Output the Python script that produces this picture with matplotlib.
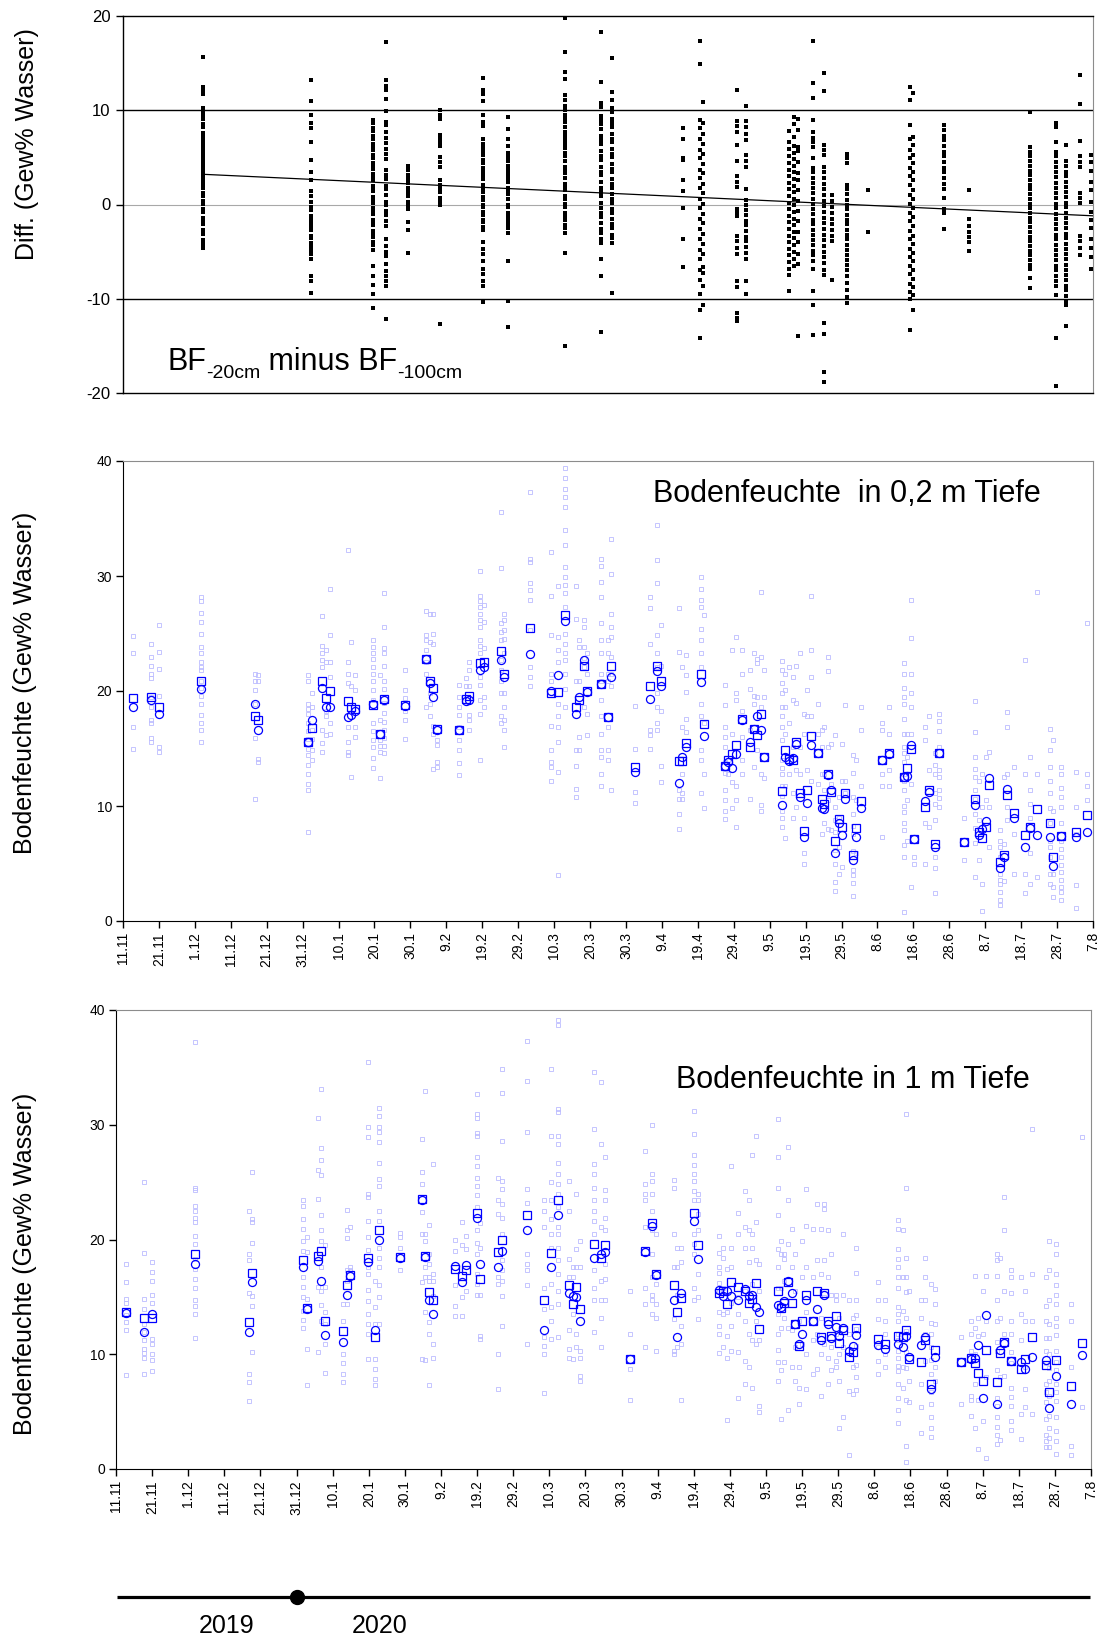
import matplotlib
matplotlib.use("Agg")
import matplotlib.pyplot as plt

plt.rcParams['font.family'] = ['Liberation Sans', 'DejaVu Sans']
plt.rcParams['axes.unicode_minus'] = False

# ---------------- data ----------------
# x positions are days after 11.11.2019
tick_days = [0, 10, 20, 30, 40, 50, 60, 70, 80, 90, 100, 110, 120, 130, 140, 150, 160,
             170, 180, 190, 200, 210, 220, 230, 240, 250, 260, 270]
tick_labels = ['11.11', '21.11', '1.12', '11.12', '21.12', '31.12', '10.1', '20.1', '30.1',
               '9.2', '19.2', '29.2', '10.3', '20.3', '30.3', '9.4', '19.4', '29.4', '9.5',
               '19.5', '29.5', '8.6', '18.6', '28.6', '8.7', '18.7', '28.7', '7.8']

# Panel 1: BF-20cm minus BF-100cm
diff_days = [22.2, 52.2, 69.7, 73.2, 79.2, 88.2, 100.1, 107.1, 123.0, 133.0, 136.0,
             156.0, 160.6, 161.5, 171.0, 173.3, 185.5, 186.8, 188.0, 192.0, 195.0, 197.4,
             201.5, 207.4, 219.0, 220.0, 228.4, 235.5, 252.4, 259.7, 262.5, 266.4, 269.5]
diff_vals = [
    [15.6, 12.5, 12.1, 11.7, 10.2, 9.8, 9.4, 9.1, 8.5, 8.2, 7.6, 7.3, 7.0, 6.5, 6.2, 5.8, 5.5,
     5.1, 4.8, 4.4, 4.1, 3.7, 3.5, 3.1, 2.7, 2.3, 2.0, 1.7, 1.2, 0.9, 0.4, 0.1, -0.5, -0.8,
     -1.4, -1.8, -2.1, -2.7, -3.1, -3.8, -4.2, -4.6],
    [13.2, 11.0, 9.5, 8.6, 8.1, 6.6, 4.7, 3.5, 2.6, 1.4, 0.9, 0.3, -0.3, -0.6, -1.2, -1.5,
     -2.0, -2.4, -2.7, -3.3, -3.6, -4.1, -4.4, -4.8, -5.3, -5.8, -7.6, -8.1, -9.4],
    [9.0, 8.7, 8.1, 7.8, 7.3, 7.0, 6.4, 6.1, 5.8, 5.2, 4.9, 4.4, 4.1, 3.8, 3.2, 2.9, 2.6,
     2.0, 1.7, 1.4, 0.8, 0.5, 0.2, -0.4, -0.7, -1.0, -1.6, -1.9, -2.2, -2.8, -3.1, -3.4,
     -4.0, -4.3, -4.8, -6.5, -7.6, -8.5, -9.5, -11.0],
    [17.2, 13.2, 12.6, 12.2, 11.2, 9.9, 8.8, 8.4, 7.7, 7.1, 6.5, 5.9, 5.4, 4.8, 3.7, 3.1,
     2.7, 2.0, 1.6, 1.0, 0.3, 0.0, -0.7, -1.1, -1.8, -2.3, -3.7, -4.4, -5.0, -5.5, -6.3,
     -7.1, -7.6, -8.1, -8.7, -12.1],
    [4.1, 3.7, 3.1, 2.7, 2.3, 1.7, 1.3, 0.9, 0.3, 0.0, -0.5, -1.9, -2.7, -5.1],
    [10.0, 9.5, 9.1, 7.4, 6.9, 6.6, 6.2, 5.0, 4.5, 4.0, 2.6, 2.1, 1.7, 1.3, 0.7, 0.4, 0.0, -12.7],
    [13.4, 12.2, 11.7, 11.0, 9.5, 8.8, 8.3, 6.9, 6.4, 6.1, 5.7, 5.2, 4.7, 4.4, 3.9, 3.4, 3.0,
     2.7, 2.1, 1.8, 1.3, 0.8, 0.5, 0.0, -0.3, -0.8, -1.1, -1.6, -1.9, -2.4, -2.7, -4.0,
     -4.7, -5.3, -6.0, -6.8, -7.4, -8.1, -8.7, -10.3],
    [9.3, 8.0, 6.9, 6.2, 5.5, 5.0, 4.6, 4.1, 3.7, 3.2, 2.8, 2.4, 1.8, 1.5, 1.1, 0.6, 0.0,
     -0.3, -0.9, -1.2, -1.6, -2.1, -2.5, -3.0, -6.0, -10.2, -13.0],
    [19.8, 16.2, 14.1, 13.3, 11.6, 11.1, 10.4, 10.0, 9.5, 9.1, 8.8, 8.2, 7.7, 7.3, 6.8, 6.4,
     6.0, 5.5, 5.1, 4.6, 4.0, 3.7, 3.3, 2.8, 2.2, 1.9, 1.5, 0.9, 0.6, 0.1, -0.3, -0.9,
     -1.3, -1.6, -2.2, -2.5, -3.0, -5.1, -15.0],
    [18.3, 13.0, 10.8, 10.3, 9.4, 9.0, 8.5, 8.0, 7.3, 6.8, 6.4, 5.7, 5.1, 4.7, 4.0, 3.5,
     3.1, 2.4, 1.8, 1.3, 0.9, 0.2, -0.4, -0.9, -1.3, -2.0, -2.6, -3.0, -3.7, -4.1, -5.8,
     -7.6, -13.5],
    [15.5, 11.9, 11.1, 10.2, 9.8, 9.1, 8.6, 8.2, 7.5, 7.0, 6.6, 5.9, 5.4, 5.0, 4.3, 3.8,
     3.4, 2.7, 2.2, 1.8, 1.1, 0.6, 0.2, -0.5, -0.9, -1.5, -2.1, -2.5, -3.2, -3.6, -4.1, -9.4],
    [8.1, 7.0, 4.9, 4.7, 2.6, 1.4, -0.4, -3.7, -6.6],
    [17.4, 14.9, 9.0, 8.1, 7.0, 5.8, 4.9, 3.7, 2.8, 1.7, 0.6, -0.4, -1.5, -2.6, -3.7,
     -4.8, -5.8, -7.0, -8.0, -9.5, -11.2, -14.2],
    [10.9, 8.6, 7.5, 6.4, 5.4, 4.3, 3.3, 2.2, 1.2, 0.1, -1.0, -2.0, -3.1, -4.2, -5.3,
     -6.6, -7.3, -8.6, -10.7],
    [12.1, 8.9, 8.3, 7.7, 6.3, 4.6, 3.0, 2.4, 1.9, -0.5, -0.9, -1.2, -3.3, -3.9, -4.6,
     -5.3, -8.1, -8.8, -11.5, -12.0, -12.4],
    [10.4, 8.9, 8.2, 7.5, 6.8, 5.3, 4.6, 4.0, 1.6, 0.5, 0.0, -0.6, -1.1, -1.7, -2.2, -2.8,
     -3.4, -3.9, -4.5, -5.1, -5.8, -8.1, -9.5],
    [7.8, 6.6, 5.9, 5.1, 4.4, 3.7, 3.0, 2.3, 1.6, 0.9, 0.2, -0.5, -1.2, -1.9, -2.6, -3.3,
     -4.0, -4.7, -5.4, -6.1, -6.8, -7.5, -9.2],
    [9.3, 8.5, 7.2, 6.2, 5.5, 4.8, 4.1, 3.4, 2.7, 2.0, 1.3, 0.6, -0.1, -0.8, -1.5, -2.2,
     -2.9, -3.6, -4.3, -5.0, -5.8, -6.5],
    [9.1, 7.9, 6.1, 5.7, 4.5, 3.3, 2.6, 1.5, 0.4, -0.7, -1.8, -2.9, -4.0, -5.2, -6.3, -14.0],
    [17.3, 12.9, 11.3, 9.0, 7.7, 7.1, 6.6, 6.1, 4.9, 3.9, 3.4, 2.8, 2.3, 1.7, 1.2, 0.6,
     0.1, -0.5, -1.0, -1.6, -2.1, -2.7, -3.2, -3.8, -4.3, -4.9, -5.4, -6.0, -6.8, -9.2,
     -10.7, -13.8],
    [13.9, 12.0, 6.3, 5.8, 5.3, 4.0, 3.4, 2.8, 2.2, 1.6, 1.0, 0.4, -0.2, -0.8, -1.4, -2.0,
     -2.6, -3.2, -3.8, -4.4, -5.0, -5.6, -6.2, -6.9, -7.5, -12.6, -13.7, -17.8, -18.8],
    [1.0, 0.4, -0.3, -0.9, -1.5, -2.1, -2.7, -3.3, -3.9, -8.0],
    [5.4, 4.9, 4.4, 2.1, 1.6, 1.1, 0.5, 0.0, -0.5, -1.1, -1.6, -2.1, -2.7, -3.2, -3.7,
     -4.3, -4.8, -5.4, -5.9, -6.4, -7.0, -7.6, -8.3, -9.1, -9.8, -10.4],
    [1.5, -2.9],
    [12.5, 11.1, 8.4, 6.9, 5.8, 4.9, 3.9, 3.0, 2.1, 1.0, 0.1, -0.9, -1.8, -2.8, -3.7,
     -4.7, -5.6, -6.5, -7.4, -8.4, -9.3, -10.0, -13.3],
    [11.8, 7.2, 6.3, 5.3, 4.4, 3.5, 2.6, 1.5, 0.6, -0.4, -1.3, -2.3, -3.3, -4.2, -5.1,
     -6.0, -7.0, -7.9, -8.8, -9.6, -11.2],
    [8.4, 7.9, 7.3, 6.8, 6.2, 5.6, 5.1, 4.5, 3.9, 3.4, 2.8, 2.2, 1.6, 0.7, -0.5, -0.9, -2.6],
    [1.5, -1.5, -2.3, -2.9, -3.4, -4.0, -4.9],
    [9.8, 6.1, 5.6, 5.1, 4.6, 4.1, 3.6, 3.1, 2.6, 2.1, 1.6, 1.1, 0.6, 0.1, -0.4, -0.9,
     -1.4, -1.9, -2.4, -2.9, -3.4, -3.9, -4.4, -4.9, -5.4, -5.9, -6.4, -6.8, -7.8, -8.9],
    [8.7, 8.2, 6.6, 5.6, 5.1, 4.5, 4.0, 3.4, 2.9, 2.3, 1.8, 1.2, 0.7, 0.1, -0.4, -1.0,
     -1.5, -2.1, -2.6, -3.2, -3.7, -4.3, -4.8, -5.4, -5.9, -6.5, -7.0, -7.6, -8.1, -8.7,
     -9.6, -14.2, -19.3],
    [6.3, 4.6, 4.1, 3.5, 3.0, 2.4, 1.9, 1.3, 0.8, 0.2, -0.3, -0.9, -1.4, -2.0, -2.5, -3.1,
     -3.6, -4.2, -4.7, -5.3, -5.8, -6.4, -6.9, -7.5, -8.0, -8.6, -9.1, -9.7, -10.2, -10.7,
     -12.9],
    [13.7, 10.7, 6.7, 5.1, 4.5, 4.0, 1.2, 0.7, 0.2, -3.3, -3.9, -4.6, -5.4],
    [5.3, 4.5, 3.6, 2.4, 1.5, 0.3, -0.8, -1.6, -2.5, -3.7, -4.6, -5.6, -6.8],
]
trend_days = [22.5, 270.0]
trend_vals = [3.2, -1.2]

# Panel 2: soil moisture at 0.2 m
bf20_days = [2.7, 7.8, 9.9, 21.6, 36.7, 37.7, 51.5, 52.5, 55.4, 56.4, 57.6, 62.5, 63.5, 64.5,
             69.6, 71.6, 72.6, 78.4, 84.4, 85.4, 86.3, 87.4, 93.5, 95.4, 96.4, 99.5, 100.5,
             105.2, 106.1, 113.3, 119, 121, 123, 126, 127, 128.2, 129.2, 133, 135, 135.8,
             142.6, 146.7, 148.7, 149.7, 154.7, 155.7, 156.7, 160.8, 161.8, 167.5, 168.5,
             169.5, 170.5, 172.4, 174.6, 175.6, 176.5, 177.5, 178.5, 183.4, 184.4, 185.4,
             186.4, 187.4, 188.5, 189.5, 190.5, 191.5, 193.5, 194.5, 195.2, 196.2, 197.2,
             198.2, 199.2, 200.1, 201.1, 203.1, 204.1, 205.3, 211.2, 213.2, 217.4, 218.3,
             219.3, 220.3, 223.3, 224.3, 226.1, 227.1, 234, 237.2, 238.2, 239.1, 240.1,
             241.1, 244.1, 245.1, 246.1, 248.1, 251, 252.4, 254.4, 258, 259, 261.2, 265.2,
             268.2]
bf20_square = [19.4, 19.5, 18.6, 20.9, 17.8, 17.5, 15.6, 16.8, 20.9, 19.4, 20.0, 19.1, 18.6,
               18.4, 18.8, 16.3, 19.3, 18.8, 22.8, 20.9, 20.3, 16.7, 16.6, 19.3, 19.6, 22.4,
               22.5, 23.5, 21.5, 25.5, 19.8, 19.9, 26.6, 18.6, 19.2, 22.2, 20.0, 20.6, 17.7,
               22.2, 13.4, 20.4, 22.2, 20.9, 13.9, 13.9, 15.5, 21.5, 17.1, 13.5, 14.0, 14.5,
               15.3, 17.6, 15.1, 16.7, 16.2, 18.0, 14.3, 11.3, 14.9, 14.1, 14.0, 15.6, 11.1,
               7.8, 11.4, 16.1, 14.6, 10.6, 10.2, 12.8, 11.2, 7.0, 8.9, 8.2, 11.1, 5.7, 8.1,
               10.4, 14.0, 14.6, 12.5, 13.3, 15.0, 7.1, 9.9, 11.4, 6.7, 14.6, 6.9, 10.6, 7.7,
               7.2, 8.2, 11.8, 5.1, 5.7, 11.0, 9.4, 7.5, 8.2, 9.7, 8.5, 5.6, 7.4, 7.7, 9.2]
bf20_circle = [18.6, 19.2, 18.0, 20.2, 18.9, 16.6, 15.6, 17.5, 20.3, 18.6, 18.6, 17.7, 17.9,
               18.3, 18.9, 16.3, 19.2, 18.7, 22.8, 20.7, 19.5, 16.6, 16.6, 19.1, 19.2, 21.8,
               22.1, 22.7, 21.2, 23.2, 20.0, 21.4, 26.1, 18.0, 19.5, 22.7, 19.9, 20.6, 17.7,
               21.2, 13.0, 19.3, 21.7, 20.4, 12.0, 14.3, 15.1, 20.8, 16.1, 13.5, 13.8, 13.3,
               14.5, 17.5, 15.6, 16.7, 17.8, 16.6, 14.3, 10.1, 14.3, 13.9, 14.2, 15.4, 10.8,
               7.3, 10.3, 15.3, 14.6, 9.8, 9.7, 12.7, 11.4, 5.9, 8.5, 7.5, 10.6, 5.3, 7.3,
               9.8, 14.0, 14.5, 12.5, 12.6, 15.3, 7.1, 10.4, 11.2, 6.4, 14.6, 6.9, 10.1, 7.5,
               8.0, 8.7, 12.4, 4.6, 5.6, 11.5, 9.0, 6.4, 8.1, 7.5, 7.3, 4.8, 7.4, 7.3, 7.7]
bf20_single = [
    [24.8, 23.3, 16.9, 15.0],
    [24.1, 23.0, 22.2, 21.5, 21.1, 19.5, 18.6, 17.5, 17.2, 15.9, 15.6],
    [25.7, 23.4, 21.9, 19.6, 15.1, 14.7],
    [28.2, 27.8, 26.8, 26.0, 25.0, 23.8, 23.3, 22.5, 22.1, 21.8, 20.9, 20.3, 19.6, 18.9, 17.9,
     17.2, 16.6, 15.6],
    [21.5, 20.9, 20.1, 18.9, 15.9, 10.6],
    [21.4, 20.9, 14.1, 13.8],
    [21.4, 20.9, 18.9, 18.4, 18.0, 17.2, 16.5, 15.8, 15.0, 14.4, 13.6, 12.8, 11.9, 11.4, 7.7],
    [19.8, 18.6, 16.6, 15.8, 14.9, 14.0],
    [26.5, 23.9, 23.3, 22.7, 22.1, 16.6, 15.5, 14.7],
    [23.6, 22.5, 18.3, 17.8, 16.2],
    [28.9, 24.9, 22.5, 21.2, 17.2, 16.3],
    [32.3, 22.5, 21.5, 20.7, 16.9, 15.6, 14.7, 14.4],
    [24.3, 20.4, 12.5],
    [21.4, 20.1, 16.9, 16.0],
    [24.4, 23.8, 23.3, 22.8, 22.1, 21.5, 20.9, 20.1, 19.2, 17.2, 16.5, 15.7, 15.1, 14.2, 13.3],
    [21.4, 17.5, 15.7, 15.2, 14.7, 12.4],
    [28.5, 25.6, 23.7, 23.3, 22.2, 20.9, 20.2, 19.0, 18.1, 17.3, 16.6, 15.9, 15.2, 14.6],
    [21.8, 20.1, 19.4, 18.3, 17.5, 15.8],
    [27.0, 24.9, 24.4, 23.6, 22.5, 21.5, 18.6],
    [26.7, 24.3, 19.8, 18.9, 17.8],
    [26.7, 25.0, 24.1, 17.0, 16.3, 13.2],
    [15.7, 15.3, 13.8, 13.4],
    [20.5, 19.5, 18.6, 17.9, 16.9, 15.7, 14.9, 13.7, 12.7],
    [21.1, 20.4],
    [22.5, 21.8, 20.4, 17.9, 17.5, 16.6],
    [30.4, 28.3, 27.8, 27.3, 26.7, 26.2, 25.6, 24.4, 23.9, 23.3, 21.2, 20.5, 19.2, 18.0, 14.0],
    [27.5, 26.0, 23.7, 19.5, 18.6],
    [35.6, 30.7, 25.9, 25.1, 24.4, 22.7, 21.8, 20.9, 19.8, 17.8, 17.2],
    [26.7, 26.2, 25.3, 24.5, 23.3, 19.8, 18.6, 17.5, 16.6, 15.1],
    [37.3, 31.5, 31.2, 29.4, 28.8, 27.9, 25.3, 22.1, 21.2, 20.4],
    [32.1, 28.3, 24.9, 21.5, 20.9, 17.0, 14.9, 13.8, 13.4, 12.2],
    [29.1, 24.7, 23.6, 22.5, 18.9, 17.8, 16.9, 15.6, 13.0, 4.0],
    [39.4, 38.5, 37.6, 36.9, 36.0, 34.0, 32.7, 30.8, 29.9, 29.2, 28.5, 27.3, 25.0, 24.1, 23.3,
     22.7, 21.5, 20.2, 18.6],
    [29.1, 26.3, 20.9, 14.9, 13.5, 11.5, 10.8],
    [24.4, 23.8, 20.9, 16.0, 14.9],
    [26.2, 25.6, 23.8, 22.9, 22.1, 18.6],
    [23.3, 21.5, 18.0, 16.2],
    [31.5, 30.9, 29.5, 28.2, 25.9, 24.4, 23.3, 21.5, 20.9, 19.2, 17.8, 16.3, 14.9, 14.3, 12.8,
     11.7],
    [24.4, 23.3, 21.5, 20.9, 16.9, 14.9, 14.0],
    [33.2, 30.2, 26.7, 25.6, 24.7, 23.0, 21.5, 20.4, 11.4],
    [18.7, 15.0, 11.2, 10.3],
    [28.2, 27.2, 24.1, 16.6, 16.2, 15.0],
    [34.4, 31.4, 29.4, 24.9, 23.3, 22.1, 19.8, 18.6, 17.2, 16.6],
    [25.7, 22.2, 18.3, 13.5, 12.1],
    [27.2, 23.4, 11.4, 10.6, 9.3, 8.0],
    [22.1, 16.9, 12.8, 11.1, 10.6],
    [23.1, 21.4, 19.9, 17.6, 16.4],
    [29.9, 28.9, 27.9, 27.3, 25.4, 24.4, 23.3, 22.1, 18.9, 17.8, 14.9, 14.0, 11.1],
    [26.6, 17.2, 12.8, 9.8],
    [20.5, 18.8, 16.9, 16.0, 15.1, 13.8, 12.9, 11.4, 10.5, 9.6, 8.9],
    [14.0, 12.8],
    [23.6, 16.3, 12.1, 9.8],
    [24.7, 19.8, 19.2, 11.7, 10.5, 8.2],
    [23.6, 21.5, 18.3, 16.0, 14.0, 12.8],
    [21.8, 20.2, 16.6, 10.6],
    [23.3, 19.6, 18.9, 13.4],
    [22.8, 22.4, 19.5, 14.9],
    [28.6, 23.0, 18.6, 12.8, 10.1, 9.6],
    [21.8, 19.5, 12.4],
    [22.6, 21.8, 20.7, 19.8, 18.6, 17.8, 16.9, 15.7, 14.0, 13.3, 12.8, 11.7, 10.9, 9.6, 9.0,
     8.2],
    [21.5, 20.1, 18.6, 16.3, 11.7, 7.2],
    [22.1, 17.2, 12.8],
    [21.2, 19.2, 15.1, 11.1, 9.0],
    [22.2, 19.0, 13.1, 9.9],
    [23.3, 15.1, 12.8],
    [18.0, 16.3, 9.0, 5.9, 5.0],
    [20.1, 17.8, 13.1],
    [28.3, 23.6, 21.2, 17.8, 12.2],
    [18.9, 16.3, 11.9],
    [16.6, 15.1, 12.8, 7.6],
    [16.9, 12.8, 11.4, 8.5],
    [23.0, 21.7, 15.1, 10.5, 8.0],
    [15.4, 11.9, 7.9],
    [16.2, 9.9, 8.8, 7.7, 6.2, 5.0, 3.4, 2.6],
    [10.8, 9.0, 6.4, 4.1],
    [15.4, 12.2, 4.7],
    [18.8, 12.2, 11.1],
    [14.4, 12.9, 10.8, 9.3, 8.3, 7.6, 6.1, 4.4, 4.0, 3.3, 2.2],
    [14.0, 10.5, 5.9],
    [18.6, 16.6, 11.7],
    [17.2, 16.6, 12.8, 11.7, 7.3],
    [18.6, 16.3, 13.1, 11.7],
    [22.4, 21.5, 20.3, 19.5, 18.9, 17.6, 16.3, 15.1, 14.6, 13.8, 12.8, 12.2, 11.4, 10.0, 9.5,
     8.5, 7.9, 6.6, 5.6, 0.8],
    [16.3, 14.3, 10.5, 7.0],
    [27.9, 24.6, 21.5, 19.8, 18.6, 16.3, 11.9, 3.0],
    [5.6, 5.0],
    [16.9, 15.7, 8.5, 5.0],
    [17.8, 13.1, 8.2],
    [14.6, 13.6, 12.8, 11.1, 10.2, 8.8, 5.6, 4.6, 2.4],
    [18.0, 17.4, 16.5, 15.1, 13.1, 12.5, 11.4, 10.7, 9.9],
    [9.0, 5.3],
    [19.1, 16.4, 14.3, 13.2, 12.5, 11.4, 10.6, 9.3, 8.1, 6.8, 3.8],
    [12.2, 8.8, 5.3],
    [12.8, 9.9, 3.2, 0.9],
    [14.3, 10.5],
    [14.7, 9.9, 6.4],
    [7.9, 7.0, 6.4, 5.6, 4.1, 3.6, 3.2, 2.5, 1.8, 1.4],
    [12.5, 6.7, 3.5],
    [18.2, 16.9, 12.8, 9.9, 8.8],
    [13.4, 7.6, 4.1],
    [22.7, 12.8, 4.1, 2.4],
    [14.3, 11.4, 10.2, 9.0, 5.9, 3.2],
    [28.6, 12.8, 3.8],
    [16.7, 14.9, 13.4, 12.2, 11.1, 9.8, 8.5, 7.0, 6.4, 5.6, 4.1, 3.2],
    [15.7, 9.6, 4.1, 3.0, 2.1],
    [13.4, 12.8, 11.6, 10.8, 9.9, 8.5, 7.0, 6.3, 5.6, 4.9, 4.3, 3.6, 3.0, 2.5, 1.8],
    [13.0, 9.9, 7.6, 3.1, 1.1],
    [25.9, 12.8, 11.7, 10.5],
]

# Panel 3: soil moisture at 1 m
bf100_days = [2.8, 7.7, 9.9, 21.8, 36.7, 37.6, 51.7, 52.9, 55.9, 56.9, 57.8, 62.9, 63.9, 64.8,
              69.7, 71.7, 72.7, 78.7, 84.7, 85.7, 86.6, 87.9, 93.9, 95.8, 96.8, 99.9, 100.9,
              105.8, 107.0, 113.8, 118.5, 120.5, 122.4, 125.5, 126.5, 127.5, 128.5, 132.4,
              134.3, 135.5, 142.4, 146.5, 148.4, 149.4, 154.5, 155.4, 156.4, 160.1, 161.3,
              167.1, 168.1, 169.1, 170.3, 172.3, 174.2, 175.2, 176.2, 177.2, 178.1, 183.2,
              184.2, 185.1, 186.1, 187.1, 188.1, 189.0, 190.0, 191.0, 193.0, 194.0, 195.2,
              196.1, 197.1, 198.1, 199.3, 200.2, 201.2, 203.0, 204.0, 204.9, 211.0, 213.0,
              216.6, 217.8, 218.7, 219.7, 222.9, 223.9, 225.8, 226.8, 233.9, 236.8, 237.8,
              238.8, 240.0, 241.0, 243.9, 244.9, 245.9, 247.8, 250.7, 251.7, 253.6, 257.5,
              258.5, 260.4, 264.5, 267.5]
bf100_square = [13.7, 13.2, 13.2, 18.7, 12.8, 17.1, 18.2, 14.0, 18.6, 19.0, 12.9, 12.0, 16.0,
                16.9, 18.4, 11.5, 20.8, 18.5, 23.5, 18.6, 15.4, 14.7, 17.4, 16.8, 17.3, 22.3,
                16.6, 18.9, 20.0, 22.1, 14.7, 18.8, 23.4, 16.0, 14.4, 15.9, 13.9, 19.6, 18.4,
                19.5, 9.6, 19.0, 21.4, 17.0, 16.0, 13.7, 14.9, 22.3, 19.5, 15.3, 15.5, 14.4,
                16.3, 15.9, 15.5, 14.5, 14.8, 16.2, 12.2, 15.5, 14.0, 14.5, 16.3, 14.5, 12.6,
                10.7, 12.9, 15.2, 12.9, 15.5, 11.5, 15.3, 12.9, 11.6, 13.3, 11.0, 12.1, 9.8,
                10.2, 12.3, 11.3, 10.9, 11.6, 11.5, 12.1, 9.6, 9.3, 11.2, 7.4, 10.4, 9.3, 9.7,
                9.2, 8.4, 7.7, 10.4, 7.6, 10.1, 11.1, 9.4, 8.7, 9.6, 11.5, 9.1, 6.7, 9.5, 7.2,
                11.0]
bf100_circle = [13.6, 11.9, 13.5, 17.9, 11.9, 16.3, 17.6, 13.9, 18.1, 16.4, 11.7, 11.1, 15.2,
                16.8, 18.0, 12.1, 20.0, 18.4, 23.4, 18.5, 14.7, 13.5, 17.7, 16.3, 17.8, 21.9,
                17.9, 17.6, 19.0, 20.8, 12.1, 17.6, 22.1, 15.3, 15.1, 15.0, 12.9, 18.4, 18.7,
                18.9, 9.6, 18.9, 21.2, 16.9, 14.7, 11.5, 15.3, 21.6, 18.3, 15.6, 15.1, 15.5,
                15.1, 14.7, 15.7, 15.1, 15.2, 14.1, 13.7, 14.3, 14.1, 14.6, 16.4, 15.3, 12.6,
                10.9, 11.8, 14.7, 12.9, 13.9, 11.2, 15.2, 12.6, 11.4, 12.4, 11.6, 12.3, 10.3,
                10.7, 11.7, 10.8, 10.5, 10.9, 10.6, 11.6, 9.8, 10.8, 11.5, 7.0, 9.8, 9.3, 9.6,
                9.7, 10.8, 6.2, 13.4, 5.7, 10.4, 11.0, 9.4, 9.3, 8.7, 9.8, 9.5, 5.3, 8.1, 5.7,
                9.9]
bf100_single = [
    [17.9, 16.3, 14.8, 14.5, 13.4, 12.8, 12.1, 8.2],
    [25.0, 18.8, 14.8, 13.9, 12.6, 11.9, 11.2, 10.5, 10.1, 9.7, 8.3],
    [18.0, 17.2, 16.4, 15.2, 14.5, 11.3, 10.9, 10.0, 9.5, 8.5],
    [37.2, 24.5, 24.3, 22.9, 22.5, 21.9, 21.5, 20.3, 19.6, 18.3, 17.4, 16.6, 15.8, 14.7, 14.2,
     13.5, 11.4],
    [22.5, 18.7, 18.2, 15.3, 8.3, 7.6, 5.9],
    [25.9, 21.8, 21.5, 19.7, 15.1, 14.2, 10.2],
    [23.4, 22.9, 21.8, 20.9, 19.9, 19.0, 16.7, 15.9, 15.0, 13.8, 13.0, 12.3],
    [20.2, 18.9, 14.8, 10.5, 7.3],
    [30.6, 26.1, 23.5, 15.9, 10.2],
    [33.1, 28.0, 26.9, 25.6, 22.1, 20.8, 19.9, 17.6, 15.5, 14.3, 12.9],
    [19.5, 15.9, 13.7, 12.6, 10.9, 8.4],
    [14.4, 12.9, 10.0, 9.2, 8.3, 7.6],
    [22.6, 20.8, 20.1, 17.3, 16.4, 14.4],
    [21.1, 17.6, 17.3],
    [35.5, 29.8, 28.9, 24.0, 23.7, 21.6, 20.2, 19.1, 17.6, 17.0, 15.6, 14.6, 13.5, 12.6, 11.8,
     9.6],
    [16.4, 14.1, 12.6, 9.6, 8.7, 7.8, 7.3],
    [31.5, 30.8, 29.8, 29.4, 28.5, 26.7, 25.3, 24.7, 22.5, 21.6, 19.3, 18.4, 17.6, 16.0, 15.0,
     12.6],
    [20.6, 20.2, 19.3, 17.3],
    [28.8, 25.9, 24.8, 22.4, 20.5, 16.3, 9.6],
    [32.9, 20.5, 19.9, 17.6, 16.7, 13.7, 9.5],
    [21.3, 18.7, 17.9, 16.7, 16.4, 12.8, 11.8, 7.3],
    [26.6, 17.0, 16.4, 15.1, 10.9, 9.7],
    [20.0, 19.0, 16.0, 14.2, 13.3],
    [21.5, 19.5, 15.0, 13.3],
    [20.3, 19.2, 15.5],
    [32.7, 30.9, 30.6, 29.3, 29.0, 27.2, 26.4, 25.4, 24.7, 23.9, 22.8, 20.8, 19.7, 18.7, 17.0,
     16.1, 15.2],
    [21.4, 19.3, 15.2, 11.6, 11.3],
    [25.4, 23.4, 22.2, 16.7, 16.1, 10.0, 7.0],
    [34.9, 32.8, 28.6, 25.1, 24.4, 23.1, 21.9, 20.5, 18.2, 17.3, 16.4, 15.1, 12.5],
    [37.3, 33.8, 29.4, 24.4, 23.2, 18.7, 17.9, 17.3, 16.0, 10.9],
    [23.4, 22.5, 21.1, 15.8, 13.9, 11.5, 10.7, 10.0, 6.6],
    [34.9, 29.0, 25.0, 23.4, 21.8, 20.5, 19.3, 16.1, 14.1, 12.9, 11.3],
    [39.1, 38.7, 31.4, 31.1, 29.0, 28.3, 26.7, 25.7, 24.8, 24.0, 22.8, 21.1, 20.5, 19.3, 18.2,
     17.0, 15.5, 14.4, 11.5],
    [25.1, 22.5, 18.3, 16.7, 12.1, 10.5, 9.7],
    [17.6, 16.7, 13.5, 9.6],
    [24.0, 19.2, 17.6, 11.8, 10.6],
    [19.9, 17.6, 10.3, 9.7, 8.1, 7.7],
    [34.6, 29.6, 26.6, 25.7, 24.5, 23.4, 22.5, 21.6, 20.5, 17.3, 15.8, 14.7, 11.9],
    [33.7, 28.3, 21.1, 16.4, 14.7, 13.2, 10.6],
    [27.2, 24.3, 23.4, 21.9, 20.8, 17.9, 16.6, 14.7],
    [15.5, 11.8, 8.7, 6.0],
    [27.7, 24.8, 24.0, 23.4, 21.1, 15.8, 14.4, 10.6],
    [30.0, 25.7, 25.1, 24.0, 22.5, 20.8, 18.7, 16.7, 15.2, 14.7, 13.5],
    [20.5, 16.1, 14.4, 13.2, 10.3],
    [25.2, 24.5, 20.5, 17.6, 13.1, 10.3, 10.0],
    [19.3, 17.6, 15.2, 10.6],
    [19.3, 18.0, 12.5, 10.9, 6.0],
    [31.2, 29.2, 27.4, 26.5, 25.7, 25.1, 24.2, 23.4, 20.5, 19.6, 18.7, 15.8, 14.7],
    [24.0, 23.4, 22.2, 20.8, 17.0, 15.0, 13.1],
    [20.3, 18.8, 17.6, 17.1, 16.2, 15.5, 13.7, 12.5, 11.8, 10.1],
    [19.3, 18.4, 15.8, 13.5, 10.6],
    [17.4, 13.7, 11.6, 9.7, 4.3],
    [26.4, 19.3, 17.6, 14.5, 12.5, 10.3],
    [22.3, 20.5, 15.0, 13.5, 10.2, 6.2],
    [24.2, 21.1, 19.3, 15.5, 12.9, 9.4, 7.4],
    [23.4, 20.8, 18.0, 11.8, 8.9],
    [27.4, 20.5, 19.3, 16.1, 11.2, 7.1],
    [29.0, 21.5, 18.2, 12.9, 10.9],
    [17.9, 15.5, 11.2, 5.5, 5.0],
    [30.5, 27.2, 24.5, 22.1, 19.2, 17.6, 15.8, 13.5, 11.8, 10.4, 9.3, 7.7],
    [19.9, 18.7, 15.8, 12.3, 8.6, 4.4],
    [18.7, 18.3, 16.4, 13.2, 9.3],
    [28.1, 23.4, 19.6, 12.3, 5.1],
    [20.9, 17.6, 12.1, 8.9],
    [18.7, 15.5, 10.6, 7.7],
    [12.9, 8.9, 7.1, 5.7],
    [19.9, 16.7, 10.9],
    [24.4, 21.2, 17.6, 13.7, 10.0, 7.0],
    [20.9, 16.7, 11.2, 8.3],
    [23.1, 18.2, 11.8, 8.7],
    [20.9, 17.0, 13.2, 10.0, 6.4],
    [23.1, 22.7, 18.2, 15.0, 10.9],
    [20.8, 16.7, 9.7, 7.4],
    [18.7, 15.2, 10.6, 8.6],
    [15.2, 14.7, 11.8, 9.4, 8.9],
    [13.2, 10.0, 7.7, 3.6],
    [20.5, 15.2, 10.6, 4.5],
    [14.7, 11.8, 6.8, 1.2],
    [13.2, 8.9, 6.5],
    [19.3, 17.1, 14.7, 13.4, 12.2, 10.7, 9.1, 8.0, 6.9],
    [16.3, 14.7, 13.1, 10.6, 9.4, 8.3],
    [14.7, 12.9, 11.8, 10.0, 8.9],
    [21.7, 20.9, 19.2, 18.3, 17.6, 16.7, 15.8, 14.1, 13.5, 12.9, 11.8, 11.2, 10.3, 9.7, 9.0,
     8.5, 7.4, 6.2, 5.1, 4.0],
    [20.8, 16.7, 13.8, 8.9, 7.1],
    [30.9, 24.5, 18.4, 16.7, 15.4, 13.2, 12.0, 10.2, 8.8, 6.0, 2.0, 0.6],
    [15.5, 7.7, 5.8],
    [14.7, 13.2, 7.4, 5.4, 3.1],
    [18.4, 16.7, 14.7, 11.8, 9.4],
    [16.1, 12.7, 11.8, 10.6, 9.5, 8.3, 6.7, 5.7, 4.5, 3.6, 2.8],
    [15.7, 14.4, 12.6, 8.9, 7.7],
    [11.5, 5.7],
    [12.9, 11.8, 10.3, 6.4, 6.0, 4.6],
    [16.8, 12.3, 10.0, 7.4, 3.6],
    [13.2, 11.6, 6.0, 1.7],
    [15.5, 11.8, 4.2],
    [16.8, 12.9, 8.0, 1.0],
    [18.7, 18.2, 16.8, 14.7, 12.9, 11.1, 10.3, 8.6, 6.2, 5.5, 4.5, 3.7, 3.0, 2.2],
    [18.4, 13.2, 8.0, 2.5],
    [23.7, 20.8, 15.5, 11.8, 8.1],
    [17.3, 16.7, 15.3, 12.9, 11.8, 10.2, 9.2, 7.1, 6.3, 5.5, 4.2, 3.4],
    [16.7, 13.5, 11.2, 4.8, 2.6],
    [15.5, 12.9, 8.9, 7.0, 5.4],
    [29.6, 17.0, 12.9, 4.8],
    [16.7, 14.2, 12.9, 11.4, 10.3, 9.2, 7.4, 6.7, 5.8, 4.4, 3.0, 2.4, 1.9],
    [19.9, 17.3, 14.7, 12.6, 11.4, 10.0, 8.8, 7.7, 6.4, 4.6, 3.6, 2.7, 1.9],
    [19.6, 18.7, 17.0, 16.0, 15.2, 14.4, 13.2, 12.5, 11.7, 10.3, 9.3, 8.6, 7.4, 6.7, 5.9, 4.5,
     3.3, 2.4, 1.3],
    [14.4, 12.9, 8.9, 2.0, 1.2],
    [28.9, 5.4],
]

timeline_days = [0.3, 269.7]
year_break_day = 50  # 31.12
year_labels = ['2019', '2020']

assert len(diff_days) == len(diff_vals)
for d_, s_, c_, r_ in [(bf20_days, bf20_square, bf20_circle, bf20_single),
                       (bf100_days, bf100_square, bf100_circle, bf100_single)]:
    assert len(d_) == len(s_) == len(c_) == len(r_), (len(d_), len(s_), len(c_), len(r_))

# ---------------- figure ----------------
W, H = 1097, 1639
fig = plt.figure(figsize=(W / 100, H / 100), dpi=100)


def rect(l, t, r, b):
    return [l / W, 1 - b / H, (r - l) / W, (b - t) / H]


BLUE = '#0000ff'
LIGHT = '#bcbcff'
GRAY = '#8c8c8c'

# ---- Panel 1 ----
ax1 = fig.add_axes(rect(123, 16, 1093, 393))
ax1.set_xlim(0, 270)
ax1.set_ylim(-20, 20)
ax1.axhline(10, color='black', lw=1.0, zorder=1)
ax1.axhline(-10, color='black', lw=1.0, zorder=1)
ax1.axhline(0, color='#a8a8a8', lw=0.8, zorder=1)
for d, vals in zip(diff_days, diff_vals):
    ax1.plot([d] * len(vals), vals, ls='none', marker='s', ms=2.6, mew=0,
             color='black', zorder=3)
ax1.plot(trend_days, trend_vals, color='black', lw=0.9, zorder=4)
ax1.set_yticks([-20, -10, 0, 10, 20])
ax1.set_xticks([])
ax1.tick_params(axis='y', direction='out', length=5, width=1, labelsize=12, pad=4)
for s in ['top', 'bottom', 'left']:
    ax1.spines[s].set_color('black')
    ax1.spines[s].set_linewidth(1.0)
ax1.spines['right'].set_color(GRAY)
fig.text(27 / W, 1 - 144 / H, 'Diff. (Gew% Wasser)', rotation=90, ha='center',
         va='center', fontsize=18)

# label "BF-20cm minus BF-100cm" with subscripts, built piece by piece
renderer = fig.canvas.get_renderer()
x_px, base_px = 167.0, H - 370.0
for piece, is_sub in [('BF', False), ('-20cm', True), (' minus BF', False), ('-100cm', True)]:
    t = fig.text(x_px / W, (base_px - (8 if is_sub else 0)) / H, piece,
                 fontsize=14 if is_sub else 22, ha='left', va='baseline')
    x_px = t.get_window_extent(renderer).x1


def moisture_panel(ax, days, sq, ci, single):
    ax.set_xlim(0, 270)
    ax.set_ylim(0, 40)
    for d, vals in zip(days, single):
        ax.plot([d] * len(vals), vals, ls='none', marker='s', ms=2.4, mfc='none',
                mec=LIGHT, mew=0.6, zorder=2)
    ax.plot(days, sq, ls='none', marker='s', ms=5.6, mfc='none', mec=BLUE, mew=0.9, zorder=3)
    ax.plot(days, ci, ls='none', marker='o', ms=5.8, mfc='none', mec=BLUE, mew=0.9, zorder=4)
    ax.set_yticks([0, 10, 20, 30, 40])
    ax.set_xticks(tick_days)
    ax.set_xticklabels(tick_labels, rotation=90, fontsize=10)
    ax.tick_params(axis='y', direction='out', length=5, width=1, labelsize=10, pad=3)
    ax.tick_params(axis='x', direction='out', length=5, width=1, pad=3)
    ax.spines['left'].set_color('black')
    ax.spines['bottom'].set_color('black')
    ax.spines['top'].set_color(GRAY)
    ax.spines['right'].set_color(GRAY)


# ---- Panel 2 ----
ax2 = fig.add_axes(rect(123, 461, 1093, 921))
moisture_panel(ax2, bf20_days, bf20_square, bf20_circle, bf20_single)
fig.text(847 / W, 1 - 494 / H, 'Bodenfeuchte  in 0,2 m Tiefe', ha='center', va='center',
         fontsize=22)
fig.text(25 / W, 1 - 683 / H, 'Bodenfeuchte (Gew% Wasser)', rotation=90, ha='center',
         va='center', fontsize=18)

# ---- Panel 3 ----
ax3 = fig.add_axes(rect(116, 1010, 1091, 1469))
moisture_panel(ax3, bf100_days, bf100_square, bf100_circle, bf100_single)
fig.text(853 / W, 1 - 1080 / H, 'Bodenfeuchte in 1 m Tiefe', ha='center', va='center',
         fontsize=22)
fig.text(25 / W, 1 - 1264 / H, 'Bodenfeuchte (Gew% Wasser)', rotation=90, ha='center',
         va='center', fontsize=18)

# ---- Timeline ----
ax4 = fig.add_axes(rect(116, 1570, 1091, 1639))
ax4.set_xlim(0, 270)
ax4.set_ylim(1639, 1570)
ax4.axis('off')
ax4.plot(timeline_days, [1597, 1597], color='black', lw=2.3, solid_capstyle='butt')
ax4.plot([year_break_day], [1597], marker='o', ms=10, color='black')
ax4.text(30.5, 1626, year_labels[0], ha='center', va='center', fontsize=18)
ax4.text(73, 1626, year_labels[1], ha='center', va='center', fontsize=18)

fig.savefig('out.png', dpi=100)
